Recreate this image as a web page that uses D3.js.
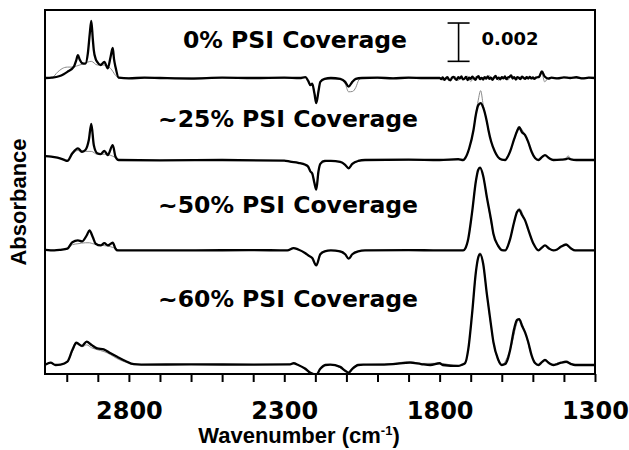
<!DOCTYPE html>
<html>
<head>
<meta charset="utf-8">
<script src="https://cdn.jsdelivr.net/npm/d3@7"></script>
<style>
	body { margin: 0; background: #fff; }
	svg { display: block; }
	.trace { fill: none; stroke-linejoin: round; stroke-linecap: round; }
	.black { stroke: #000; stroke-width: 2.3px; }
	.gray { stroke: #8a8a8a; stroke-width: 1px; }
	.panel { font-family: "DejaVu Sans", Verdana, sans-serif; font-weight: bold; font-size: 23.5px; }
	.xaxis text { font-family: "DejaVu Sans", Verdana, sans-serif; font-weight: bold; font-size: 24px; fill: #000; }
	.xaxis line { stroke: #000; stroke-width: 2px; }
	.title { font-family: "Liberation Sans", Arial, sans-serif; font-weight: bold; font-size: 22px; }
</style>
</head>
<body>
<div id="chart"></div>
<script>
// spectra: [wavenumber (cm-1), absorbance in units of 0.001], relative to each trace's baseline
var psi0Black = [[3068,0],[3048,0.02],[3025,0.09],[3010,0.2],[2998,0.32],[2977,0.59],[2970,0.9],[2964,1.19],[2958,0.95],[2951,0.78],[2940,0.75],[2932,1.3],[2926,2.3],[2921,2.98],[2916,2.0],[2913,1.46],[2907,1.0],[2902,0.84],[2891,0.68],[2879,0.84],[2868,0.51],[2859,1.1],[2852,1.57],[2848,1.0],[2843,0.57],[2833,0.02],[2800,-0.02],[2750,0.02],[2700,0],[2600,-0.03],[2500,0.02],[2400,0],[2300,0.02],[2250,0],[2232,0.05],[2223,-0.15],[2216,-0.37],[2210,-0.3],[2203,-0.8],[2197,-1.31],[2190,-0.7],[2184,-0.2],[2170,-0.05],[2150,0],[2120,-0.05],[2104,-0.2],[2093,-0.45],[2081,-0.2],[2070,-0.05],[2050,0],[2000,0.02],[1950,-0.02],[1900,0.02],[1850,0],
	[1800,0],[1795,-0.06],[1790,0.03],[1785,-0.1],[1780,-0.02],[1775,0.05],[1770,-0.08],[1765,-0.12],[1760,0.02],[1755,0.06],[1750,-0.04],[1745,-0.1],[1740,0.04],[1735,-0.02],[1730,0.08],[1725,-0.07],[1720,-0.03],[1715,0.06],[1710,-0.11],[1705,0.02],[1700,-0.05],[1695,0.07],[1690,-0.02],[1685,-0.09],[1680,0.04],[1675,0.1],[1670,-0.06],[1665,0.01],[1660,-0.08],[1655,0.05],[1650,-0.03],[1645,0.09],[1640,-0.05],[1635,0.02],[1630,-0.1],[1625,0.03],[1620,0.11],[1615,-0.04],[1610,0.02],[1605,-0.07],[1600,0.05],[1595,-0.02],[1590,0.08],[1585,-0.06],[1580,0.03],[1575,0.06],[1570,0.14],[1565,-0.03],[1560,0.04],[1555,-0.08],[1550,0.05],[1545,0.01],[1540,-0.06],[1535,0.07],[1530,0.02],[1525,-0.05],[1520,0.04],[1515,-0.03],[1510,0.06],[1505,-0.02],[1500,0.03],[1495,-0.05],[1490,0.02],[1485,0.04],[1480,0.06],
	[1471,0.34],[1462,0.08],[1450,-0.03],[1440,0.02],[1420,-0.02],[1400,0.03],[1380,0],[1360,0.04],[1340,-0.02],[1320,0.02],[1300,0]];
var psi0Gray = [[3068,0],[3045,0.05],[3030,0.3],[3015,0.49],[2998,0.57],[2982,0.57],[2964,0.65],[2945,0.75],[2921,0.87],[2902,0.68],[2884,0.68],[2859,0.5],[2843,0.14],[2833,0],[2700,0],[2500,0.02],[2300,0],[2232,0.03],[2223,-0.15],[2216,-0.3],[2210,-0.3],[2203,-0.75],[2197,-1.2],[2190,-0.65],[2184,-0.2],[2170,-0.05],[2120,-0.05],[2104,-0.3],[2093,-0.72],[2080,-0.7],[2070,-0.5],[2060,-0.1],[2050,0],
	[1800,0],[1790,-0.1],[1780,0.04],[1770,-0.15],[1760,0.02],[1750,0.08],[1740,-0.12],[1730,0.03],[1720,-0.06],[1710,0.1],[1700,-0.18],[1690,0.02],[1680,0.06],[1670,-0.1],[1660,0.04],[1650,-0.05],[1640,0.12],[1630,-0.08],[1620,0.02],[1610,-0.12],[1600,0.08],[1590,-0.04],[1580,-0.1],[1570,0.06],[1560,0.02],[1550,-0.07],[1540,0.05],[1530,-0.04],[1520,0.08],[1510,-0.02],[1500,-0.06],[1490,0.03],[1480,0.02],
	[1471,0.25],[1462,-0.2],[1450,0],[1400,0.02],[1300,0]];

var psi25Black = [[3068,0.2],[3050,0.18],[3030,0.12],[3010,0.02],[2998,-0.05],[2982,0.35],[2964,0.61],[2951,0.43],[2940,0.52],[2929,1.04],[2921,1.88],[2913,0.78],[2902,0.35],[2891,0.31],[2879,0.48],[2868,0.26],[2852,0.78],[2843,0.17],[2833,0],[2700,-0.02],[2500,0],[2300,-0.03],[2281,-0.09],[2255,-0.15],[2232,-0.25],[2223,-0.35],[2216,-0.6],[2210,-0.7],[2203,-1.2],[2197,-1.55],[2190,-0.6],[2184,-0.2],[2170,-0.05],[2150,-0.05],[2120,-0.1],[2104,-0.25],[2093,-0.43],[2081,-0.2],[2062,-0.05],[2040,0],[1900,0.02],[1800,0],[1740,0.05],[1724,0],[1718,0.09],[1705,0.6],[1691,1.57],[1683,2.4],[1676,2.85],[1668,2.97],[1660,2.75],[1648,2.0],[1643,1.57],[1634,0.95],[1622,0.43],[1612,0.15],[1600,0.02],[1589,0],[1580,0.2],[1573,0.45],[1560,1.1],[1551,1.5],[1544,1.71],[1535,1.45],[1525,1.3],[1515,0.95],[1504,0.43],[1493,0.1],[1482,0],[1471,0.15],[1461,0.26],[1448,0.1],[1434,0],[1409,0.02],[1393,0.05],[1386,0.08],[1377,0.03],[1360,0],[1300,0]];
var psi25Gray = [[3068,0.2],[3050,0.18],[3030,0.12],[3010,0.02],[2998,0],[2982,0.3],[2964,0.5],[2951,0.4],[2940,0.45],[2921,0.45],[2902,0.3],[2879,0.3],[2860,0.25],[2843,0.12],[2833,0],[2700,-0.02],[2500,0],[2300,-0.03],[2281,-0.09],[2232,-0.25],[2216,-0.55],[2203,-1.1],[2197,-1.45],[2190,-0.6],[2184,-0.2],[2150,-0.05],[2120,-0.1],[2104,-0.25],[2093,-0.4],[2081,-0.2],[2040,0],[1800,0],[1724,0],[1718,0.09],[1705,0.6],[1691,1.6],[1683,2.45],[1676,3.1],[1668,3.62],[1660,2.9],[1648,2.0],[1643,1.57],[1634,0.95],[1622,0.43],[1600,0.02],[1589,0],[1573,0.45],[1560,1.1],[1544,1.71],[1525,1.3],[1504,0.43],[1482,0],[1461,0.24],[1434,0],[1400,0.03],[1386,0.21],[1375,0.02],[1300,0]];

var psi50Black = [[3068,0.03],[3040,0],[3020,0.03],[2998,0.09],[2982,0.43],[2964,0.52],[2951,0.47],[2936,0.78],[2927,1.04],[2916,0.69],[2907,0.35],[2891,0.26],[2879,0.38],[2868,0.26],[2852,0.4],[2843,0.09],[2836,0],[2600,0],[2400,0.02],[2290,0],[2270,0.12],[2255,0.05],[2232,-0.15],[2223,-0.26],[2210,-0.4],[2197,-0.78],[2184,-0.2],[2170,-0.05],[2150,0],[2120,-0.05],[2104,-0.2],[2093,-0.43],[2081,-0.2],[2062,-0.05],[2040,0],[1900,0.02],[1800,0],[1724,0],[1718,0.09],[1708,0.6],[1696,1.93],[1683,3.65],[1676,4.2],[1670,4.32],[1660,3.9],[1648,2.78],[1634,1.55],[1627,0.87],[1612,0.25],[1600,0.02],[1589,0],[1580,0.25],[1573,0.6],[1560,1.5],[1551,2.0],[1544,2.12],[1535,1.85],[1525,1.57],[1515,1.1],[1498,0.35],[1482,0],[1471,0.15],[1461,0.26],[1448,0.1],[1434,0],[1422,0.05],[1409,0.2],[1393,0.31],[1377,0.1],[1364,0],[1300,0]];
var psi50Gray = [[3068,0.03],[3040,0],[3020,0.03],[2998,0.09],[2982,0.3],[2964,0.35],[2940,0.4],[2927,0.4],[2916,0.35],[2900,0.3],[2879,0.25],[2860,0.2],[2843,0.1],[2830,0],[2600,0],[2290,0],[2270,0.1],[2232,-0.15],[2210,-0.4],[2197,-0.75],[2184,-0.2],[2150,0],[2104,-0.2],[2093,-0.43],[2081,-0.2],[2040,0],[1800,0],[1724,0],[1718,0.09],[1708,0.6],[1696,1.93],[1683,3.65],[1676,4.2],[1670,4.35],[1660,3.9],[1648,2.78],[1627,0.87],[1600,0.02],[1589,0],[1573,0.6],[1560,1.5],[1544,2.2],[1525,1.57],[1498,0.35],[1482,0],[1461,0.26],[1434,0],[1393,0.31],[1364,0],[1300,0]];

var psi60Black = [[3068,0.03],[3052,0.12],[3036,0],[3020,0.02],[2998,0.17],[2982,0.78],[2969,1.16],[2951,1.0],[2936,1.22],[2920,1.04],[2902,0.87],[2881,0.82],[2859,0.61],[2838,0.43],[2811,0.21],[2784,0.04],[2760,0.02],[2600,0.03],[2400,0.02],[2281,0.03],[2270,0.09],[2255,0],[2232,-0.2],[2216,-0.4],[2197,-0.5],[2184,-0.2],[2168,0],[2152,0.02],[2120,-0.1],[2104,-0.3],[2093,-0.4],[2081,-0.2],[2062,0],[2046,0.02],[2000,0.02],[1950,0.05],[1895,0.12],[1860,0.05],[1830,0],[1800,0.09],[1790,0],[1740,-0.05],[1730,0],[1718,0.1],[1708,0.8],[1696,2.6],[1683,4.9],[1676,5.6],[1670,5.79],[1660,5.3],[1648,3.7],[1634,2.0],[1627,1.2],[1612,0.3],[1600,0],[1589,0.05],[1580,0.35],[1573,0.8],[1560,1.9],[1551,2.35],[1544,2.39],[1535,2.05],[1525,1.7],[1515,1.2],[1504,0.5],[1493,0.1],[1482,0],[1471,0.15],[1461,0.26],[1448,0.1],[1434,0],[1422,0.05],[1409,0.12],[1393,0.17],[1377,0.05],[1364,0],[1300,0]];
var psi60Gray = [[3068,0.03],[3052,0.1],[3036,0],[3020,0.02],[2998,0.15],[2982,0.7],[2969,1.1],[2951,0.95],[2936,1.05],[2920,0.9],[2902,0.8],[2880,0.7],[2860,0.55],[2840,0.35],[2811,0.15],[2784,0.02],[2600,0.03],[2281,0.03],[2270,0.08],[2255,0],[2232,-0.25],[2216,-0.45],[2197,-0.5],[2184,-0.2],[2152,0.02],[2104,-0.3],[2093,-0.42],[2081,-0.2],[2062,0],[1950,0.08],[1895,0.18],[1860,0.08],[1800,0.09],[1740,-0.05],[1718,0.1],[1708,0.8],[1696,2.6],[1683,4.9],[1676,5.65],[1670,5.86],[1660,5.3],[1648,3.7],[1627,1.2],[1600,0],[1573,0.8],[1544,2.39],[1525,1.7],[1504,0.5],[1482,0],[1461,0.26],[1434,0],[1393,0.17],[1364,0],[1300,0]];

var blackSeries = [psi0Black, psi25Black, psi50Black, psi60Black];
var graySeries = [psi0Gray, psi25Gray, psi50Gray, psi60Gray];
var offsets = [15.45, 11.17, 6.45, 0.47];
var labels = ["0% PSI Coverage", "~25% PSI Coverage", "~50% PSI Coverage", "~60% PSI Coverage"];
var tickValues = d3.range(3000, 1299, -100);
var labeledTicks = [2800, 2300, 1800, 1300];
var scaleBar = 2;   // 0.002 absorbance
var scaleLabel = "0.002";

var width = 629;
var height = 450;
var plotLeft = 45, plotRight = 595, plotTop = 10, plotBottom = 374;

var xScale = d3.scaleLinear().domain([3070, 1300]).range([plotLeft, plotRight]);
var yScale = d3.scaleLinear().domain([0, 19]).range([plotBottom, plotTop]);

var svg = d3.select("#chart").append("svg")
	.attr("width", width)
	.attr("height", height);

svg.append("clipPath").attr("id", "plot")
	.append("rect")
	.attr("x", plotLeft).attr("y", plotTop)
	.attr("width", plotRight - plotLeft).attr("height", plotBottom - plotTop);

var traces = svg.append("g").attr("clip-path", "url(#plot)");

function drawTrace(data, off, cls) {
	var line = d3.line()
		.x(d => xScale(d[0]))
		.y(d => yScale(d[1] + off))
		.curve(d3.curveMonotoneX);
	traces.append("path")
		.attr("class", "trace " + cls)
		.attr("d", line(data));
}

graySeries.forEach((s, i) => drawTrace(s, offsets[i], "gray"));
blackSeries.forEach((s, i) => drawTrace(s, offsets[i], "black"));

/* frame */
svg.append("rect")
	.attr("x", plotLeft).attr("y", plotTop)
	.attr("width", plotRight - plotLeft).attr("height", plotBottom - plotTop)
	.attr("fill", "none")
	.attr("stroke", "#000")
	.attr("stroke-width", 2);

/* x axis */
var xAxis = d3.axisBottom(xScale)
	.tickValues(tickValues)
	.tickSize(8)
	.tickPadding(20)
	.tickFormat(d => labeledTicks.indexOf(d) >= 0 ? d : "");

svg.append("g")
	.attr("class", "xaxis")
	.attr("transform", `translate(0, ${plotBottom})`)
	.call(xAxis)
	.call(g => g.select(".domain").remove());

/* trace labels */
var labelX = [183, 158, 158, 158];
var labelY = [48, 127, 213, 307];
svg.selectAll(".panel")
	.data(labels).enter()
	.append("text")
	.attr("class", "panel")
	.attr("x", (d, i) => labelX[i])
	.attr("y", (d, i) => labelY[i])
	.text(d => d);

/* scale bar */
var barX = xScale(1739);
var barTop = yScale(offsets[0] + 0.87 + scaleBar);
var barBottom = yScale(offsets[0] + 0.87);
var bar = svg.append("g").attr("stroke", "#000").attr("stroke-width", 1.6);
bar.append("line").attr("x1", barX).attr("x2", barX).attr("y1", barTop).attr("y2", barBottom);
bar.append("line").attr("x1", barX - 11).attr("x2", barX + 11).attr("y1", barTop).attr("y2", barTop);
bar.append("line").attr("x1", barX - 11).attr("x2", barX + 11).attr("y1", barBottom).attr("y2", barBottom);
svg.append("text")
	.attr("class", "panel")
	.style("font-size", "18px")
	.attr("x", barX + 23)
	.attr("y", 45)
	.text(scaleLabel);

/* axis titles */
svg.append("text")
	.attr("class", "title")
	.attr("transform", "translate(26, 202) rotate(-90)")
	.attr("text-anchor", "middle")
	.text("Absorbance");

var xt = svg.append("text")
	.attr("class", "title")
	.attr("x", 299)
	.attr("y", 443)
	.attr("text-anchor", "middle");
xt.append("tspan").text("Wavenumber (cm");
xt.append("tspan").attr("dy", -8).style("font-size", "13px").text("-1");
xt.append("tspan").attr("dy", 8).text(")");
</script>
</body>
</html>
